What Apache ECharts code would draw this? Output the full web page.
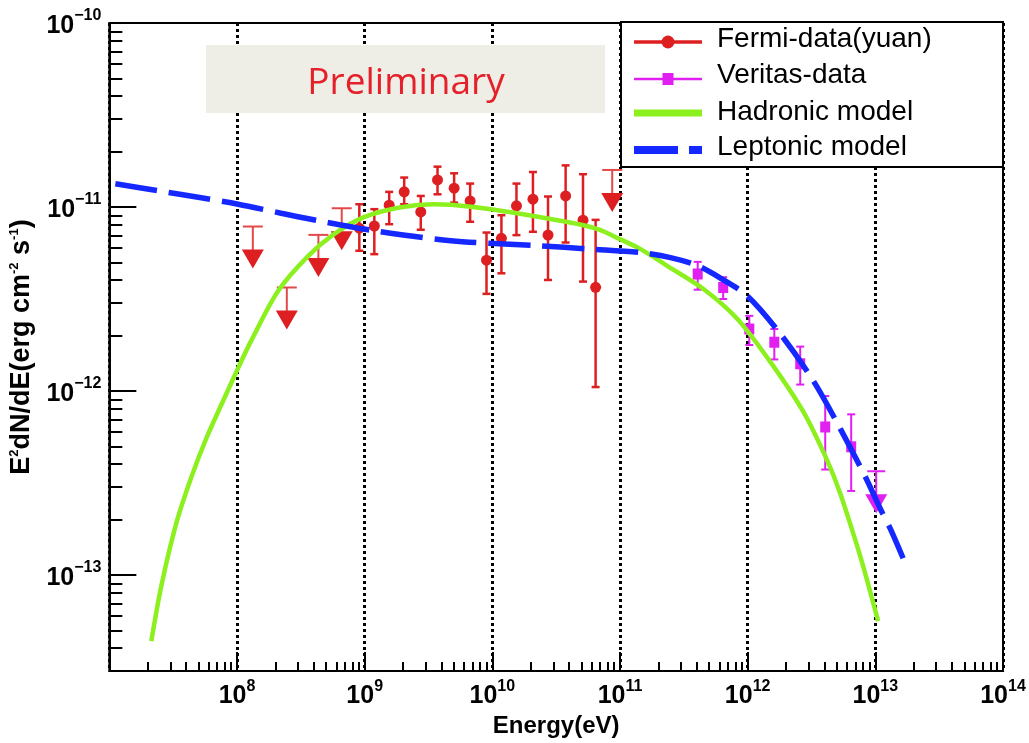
<!DOCTYPE html>
<html>
<head>
<meta charset="utf-8">
<script src="https://cdn.jsdelivr.net/npm/echarts@6/dist/echarts.min.js"></script>
<style>
  html, body { margin: 0; padding: 0; background: #fff; }
  #chart { width: 1029px; height: 743px; }
</style>
</head>
<body>
<div id="chart"></div>
<script>
// Fermi-LAT flux points: energy (eV), E^2 dN/dE (erg cm^-2 s^-1), error-bar top and bottom
const fermiE  = [9.08e8, 1.19e9, 1.556e9, 2.04e9, 2.75e9, 3.72e9, 5.02e9, 6.70e9, 9.0e9, 1.178e10, 1.545e10, 2.08e10, 2.73e10, 3.75e10, 5.13e10, 6.44e10];
const fermiF  = [7.67e-12, 7.88e-12, 1.022e-11, 1.208e-11, 9.40e-12, 1.403e-11, 1.265e-11, 1.079e-11, 5.14e-12, 6.75e-12, 1.014e-11, 1.102e-11, 7.03e-12, 1.148e-11, 8.47e-12, 3.66e-12];
const fermiHi = [1.035e-11, 9.73e-12, 1.208e-11, 1.445e-11, 1.148e-11, 1.656e-11, 1.524e-11, 1.34e-11, 7.26e-12, 9.02e-12, 1.34e-11, 1.549e-11, 1.14e-11, 1.683e-11, 1.507e-11, 8.51e-12];
const fermiLo = [5.78e-12, 5.54e-12, 8.06e-12, 1.035e-11, 7.52e-12, 1.172e-11, 1.056e-11, 8.31e-12, 3.37e-12, 4.36e-12, 7.03e-12, 7.33e-12, 4.01e-12, 6.41e-12, 3.93e-12, 1.05e-12];

// Fermi-LAT upper limits
const fermiUlE = [1.33e8, 2.455e8, 4.34e8, 6.61e8, 8.69e10];
const fermiUlF = [7.83e-12, 3.65e-12, 7.05e-12, 9.84e-12, 1.589e-11];

// VERITAS flux points
const veritasE  = [4.06e11, 6.43e11, 1.03e12, 1.617e12, 2.58e12, 4.05e12, 6.47e12];
const veritasF  = [4.32e-12, 3.65e-12, 2.17e-12, 1.84e-12, 1.405e-12, 6.37e-13, 4.97e-13];
const veritasHi = [5.03e-12, 4.15e-12, 2.56e-12, 2.17e-12, 1.742e-12, 9.38e-13, 7.46e-13];
const veritasLo = [3.55e-12, 3.16e-12, 1.776e-12, 1.483e-12, 1.083e-12, 3.74e-13, 2.86e-13];

// VERITAS upper limit
const veritasUlE = [1.016e13];
const veritasUlF = [3.66e-13];

// Hadronic (pi0 decay) model curve
const hadronicE = [2.131e7, 2.551e7, 3.342e7, 4.379e7, 5.736e7, 7.791e7, 1.039e8, 1.290e8, 2.098e8, 3.601e8, 5.751e8, 9.872e8, 1.922e9, 3.483e9, 4.729e9, 9.719e9, 2.392e10, 5.188e10, 7.047e10, 8.905e10, 1.448e11, 2.355e11, 4.503e11, 8.308e11, 1.505e12, 2.727e12, 4.201e12, 5.309e12, 6.709e12, 8.035e12, 1.052e13];
const hadronicF = [4.368e-14, 8.68e-14, 1.905e-13, 3.384e-13, 5.505e-13, 8.849e-13, 1.369e-12, 1.872e-12, 3.493e-12, 5.408e-12, 7.115e-12, 8.80e-12, 9.968e-12, 1.035e-11, 1.028e-11, 9.723e-12, 8.80e-12, 7.962e-12, 7.479e-12, 6.939e-12, 5.900e-12, 4.773e-12, 3.582e-12, 2.462e-12, 1.439e-12, 7.713e-13, 4.183e-13, 2.771e-13, 1.682e-13, 1.114e-13, 5.608e-14];

// Leptonic (inverse Compton) model curve
const leptonicE = [1.114e7, 2.417e7, 5.242e7, 1.021e8, 2.214e8, 4.312e8, 1.182e9, 4.729e9, 2.266e10, 5.886e10, 1.448e11, 2.486e11, 4.042e11, 6.116e11, 9.947e11, 1.802e12, 3.265e12, 5.309e12, 8.328e12, 1.091e13, 1.307e13, 1.651e13];
const leptonicF = [1.337e-11, 1.225e-11, 1.122e-11, 1.035e-11, 9.25e-12, 8.424e-12, 7.433e-12, 6.561e-12, 6.164e-12, 5.900e-12, 5.649e-12, 5.306e-12, 4.802e-12, 4.108e-12, 3.282e-12, 2.042e-12, 1.136e-12, 6.237e-13, 3.426e-13, 2.297e-13, 1.790e-13, 1.231e-13];

// Axis ranges and labelled decades
const energyMin = 1e7, energyMax = 1e14;
const fluxMin = 3e-14, fluxMax = 1e-10;
const xTickExps = [8, 9, 10, 11, 12, 13, 14];
const yTickExps = [-13, -12, -11, -10];
const minorMultipliers = [2, 3, 4, 5, 6, 7, 8, 9];

const lg = Math.log10;
const RED = '#dd1f22', MAGENTA = '#e01ff0', GREEN = '#8cf01e', BLUE = '#1428ff';
const FONT = '"Liberation Sans", Arial, Helvetica, sans-serif';

// Log-space data tuples
const fermiData = fermiE.map((e, i) => [lg(e), lg(fermiF[i]), lg(fermiHi[i]), lg(fermiLo[i])]);
const veritasData = veritasE.map((e, i) => [lg(e), lg(veritasF[i]), lg(veritasHi[i]), lg(veritasLo[i])]);
const fermiUlData = fermiUlE.map((e, i) => [lg(e), lg(fermiUlF[i])]);
const veritasUlData = veritasUlE.map((e, i) => [lg(e), lg(veritasUlF[i])]);
const hadronicData = hadronicE.map((e, i) => [lg(e), lg(hadronicF[i])]);
const leptonicData = leptonicE.map((e, i) => [lg(e), lg(leptonicF[i])]);

// Minor log ticks (2..9 x 10^n) inside each axis range
function minorTicks(lo, hi) {
  const out = [];
  for (let n = Math.floor(lo) - 1; n <= Math.ceil(hi); n++) {
    minorMultipliers.forEach(k => {
      const v = n + lg(k);
      if (v > lo && v < hi) out.push(v);
    });
  }
  return out;
}
const xMinor = minorTicks(lg(energyMin), lg(energyMax));
const yMinor = minorTicks(lg(fluxMin), lg(fluxMax));

const sup = v => String(v).replace('-', '\u2212');

// Error bar with marker
function errorBarRenderer(color, marker, lw) {
  return function (params, api) {
    const c = api.coord([api.value(0), api.value(1)]);
    const hi = api.coord([api.value(0), api.value(2)]);
    const lo = api.coord([api.value(0), api.value(3)]);
    const cw = 4;
    const st = { stroke: color, lineWidth: lw, fill: null };
    const children = [
      { type: 'line', shape: { x1: c[0], y1: hi[1], x2: c[0], y2: lo[1] }, style: st },
      { type: 'line', shape: { x1: c[0] - cw, y1: hi[1], x2: c[0] + cw, y2: hi[1] }, style: st },
      { type: 'line', shape: { x1: c[0] - cw, y1: lo[1], x2: c[0] + cw, y2: lo[1] }, style: st }
    ];
    if (marker === 'circle') {
      children.push({ type: 'circle', shape: { cx: c[0], cy: c[1], r: 5.5 }, style: { fill: color } });
    } else {
      children.push({ type: 'rect', shape: { x: c[0] - 5, y: c[1] - 5.5, width: 10, height: 11 }, style: { fill: color } });
    }
    return { type: 'group', children };
  };
}

// Upper limit: bar at the limit, stem and downward arrow head
function upperLimitRenderer(color, barColor, capHalf) {
  return function (params, api) {
    const c = api.coord([api.value(0), api.value(1)]);
    const st = { stroke: barColor, lineWidth: 2, fill: null };
    return {
      type: 'group',
      children: [
        { type: 'line', shape: { x1: c[0] - capHalf, y1: c[1], x2: c[0] + capHalf, y2: c[1] }, style: st },
        { type: 'line', shape: { x1: c[0], y1: c[1], x2: c[0], y2: c[1] + 24 }, style: st },
        { type: 'polygon', shape: { points: [[c[0] - 11, c[1] + 23], [c[0] + 11, c[1] + 23], [c[0], c[1] + 42]] }, style: { fill: color } }
      ]
    };
  };
}

const labelRich = {
  b: { fontSize: 25, fontWeight: 'bold', fontFamily: FONT, color: '#000', padding: [7, 0, 0, 0] },
  e: { fontSize: 16, fontWeight: 'bold', fontFamily: FONT, color: '#000', padding: [0, 0, 14, 0] }
};

const chart = echarts.init(document.getElementById('chart'), null, { renderer: 'canvas' });

chart.setOption({
  backgroundColor: '#fff',
  animation: false,
  grid: { left: 108, right: 26, top: 23, bottom: 70, show: true, borderColor: '#000', borderWidth: 2, backgroundColor: 'transparent' },
  xAxis: [
    {
      type: 'value', min: lg(energyMin), max: lg(energyMax), interval: 1,
      name: 'Energy(eV)', nameLocation: 'middle', nameGap: 40,
      nameTextStyle: { fontSize: 24, fontWeight: 'bold', fontFamily: FONT, color: '#000' },
      axisLine: { show: true, lineStyle: { color: '#000', width: 2 } },
      axisTick: { show: true, inside: true, length: 19, lineStyle: { color: '#000', width: 2 } },
      axisLabel: {
        customValues: xTickExps, margin: 6,
        formatter: v => '{b|10}{e|' + sup(v) + '}', rich: labelRich
      },
      splitLine: { show: true, lineStyle: { color: '#000', width: 3, type: [3, 3] } }
    },
    {
      type: 'value', min: lg(energyMin), max: lg(energyMax), position: 'bottom',
      axisLine: { show: false },
      axisTick: { show: true, inside: true, length: 9, customValues: xMinor, lineStyle: { color: '#000', width: 2 } },
      axisLabel: { show: false },
      splitLine: { show: false }
    }
  ],
  yAxis: [
    {
      type: 'value', min: lg(fluxMin), max: lg(fluxMax),
      name: '{t|E}{s|2}{t|dN/dE(erg cm}{s|-2}{t| s}{s|-1}{t|)}',
      nameLocation: 'middle', nameGap: 62,
      nameTextStyle: {
        rich: {
          t: { fontSize: 27, fontWeight: 'bold', fontFamily: FONT, color: '#000' },
          s: { fontSize: 13, fontWeight: 'bold', fontFamily: FONT, color: '#000', padding: [0, 0, 15, 0] }
        }
      },
      axisLine: { show: true, lineStyle: { color: '#000', width: 2 } },
      axisTick: { show: true, inside: true, length: 27, customValues: yTickExps, lineStyle: { color: '#000', width: 2 } },
      axisLabel: {
        customValues: yTickExps, margin: 8,
        formatter: v => '{b|10}{e|' + sup(v) + '}', rich: labelRich
      },
      splitLine: { show: false }
    },
    {
      type: 'value', min: lg(fluxMin), max: lg(fluxMax), position: 'left',
      axisLine: { show: false },
      axisTick: { show: true, inside: true, length: 13, customValues: yMinor, lineStyle: { color: '#000', width: 2 } },
      axisLabel: { show: false },
      splitLine: { show: false }
    }
  ],
  series: [
    {
      name: 'Fermi-data(yuan)', type: 'custom', z: 3,
      renderItem: errorBarRenderer(RED, 'circle', 2.5),
      encode: { x: 0, y: [1, 2, 3] }, data: fermiData
    },
    {
      name: 'Fermi upper limits', type: 'custom', z: 3,
      renderItem: upperLimitRenderer(RED, '#e24a4a', 10),
      encode: { x: 0, y: 1 }, data: fermiUlData
    },
    {
      name: 'Veritas-data', type: 'custom', z: 3,
      renderItem: errorBarRenderer(MAGENTA, 'square', 2),
      encode: { x: 0, y: [1, 2, 3] }, data: veritasData
    },
    {
      name: 'Veritas upper limit', type: 'custom', z: 3,
      renderItem: upperLimitRenderer(MAGENTA, MAGENTA, 9),
      encode: { x: 0, y: 1 }, data: veritasUlData
    },
    {
      name: 'Hadronic model', type: 'line', z: 4, smooth: 0.3, showSymbol: false,
      lineStyle: { color: GREEN, width: 4.5 }, data: hadronicData
    },
    {
      name: 'Leptonic model', type: 'line', z: 5, smooth: 0.3, showSymbol: false,
      lineStyle: { color: BLUE, width: 5.5, type: [42, 12] }, data: leptonicData
    }
  ],
  graphic: [
    // "Preliminary" stamp
    { type: 'rect', z: 10, shape: { x: 206, y: 45, width: 399, height: 68 }, style: { fill: '#eeeee6' } },
    { type: 'text', z: 11, x: 406, y: 83, style: { text: 'Preliminary', font: '37px "Open Sans", Lato, sans-serif', fill: '#e5202a', align: 'center', verticalAlign: 'middle' } },
    // Legend
    { type: 'rect', z: 20, shape: { x: 621, y: 22, width: 382, height: 145 }, style: { fill: '#fff', stroke: '#000', lineWidth: 2 } },
    { type: 'line', z: 21, shape: { x1: 634, y1: 42, x2: 702, y2: 42 }, style: { stroke: RED, lineWidth: 3.5 } },
    { type: 'circle', z: 21, shape: { cx: 668, cy: 42, r: 6.5 }, style: { fill: RED } },
    { type: 'text', z: 21, x: 717, y: 39, style: { text: 'Fermi-data(yuan)', font: '28px ' + FONT, fill: '#000', align: 'left', verticalAlign: 'middle' } },
    { type: 'line', z: 21, shape: { x1: 634, y1: 79, x2: 702, y2: 79 }, style: { stroke: MAGENTA, lineWidth: 2.5 } },
    { type: 'rect', z: 21, shape: { x: 662.5, y: 73, width: 11, height: 12 }, style: { fill: MAGENTA } },
    { type: 'text', z: 21, x: 717, y: 75, style: { text: 'Veritas-data', font: '28px ' + FONT, fill: '#000', align: 'left', verticalAlign: 'middle' } },
    { type: 'line', z: 21, shape: { x1: 634, y1: 113, x2: 702, y2: 113 }, style: { stroke: GREEN, lineWidth: 7 } },
    { type: 'text', z: 21, x: 717, y: 112, style: { text: 'Hadronic model', font: '28px ' + FONT, fill: '#000', align: 'left', verticalAlign: 'middle' } },
    { type: 'line', z: 21, shape: { x1: 634, y1: 150, x2: 702, y2: 150 }, style: { stroke: BLUE, lineWidth: 8, lineDash: [44, 11] } },
    { type: 'text', z: 21, x: 717, y: 147, style: { text: 'Leptonic model', font: '28px ' + FONT, fill: '#000', align: 'left', verticalAlign: 'middle' } }
  ]
});
</script>
</body>
</html>
